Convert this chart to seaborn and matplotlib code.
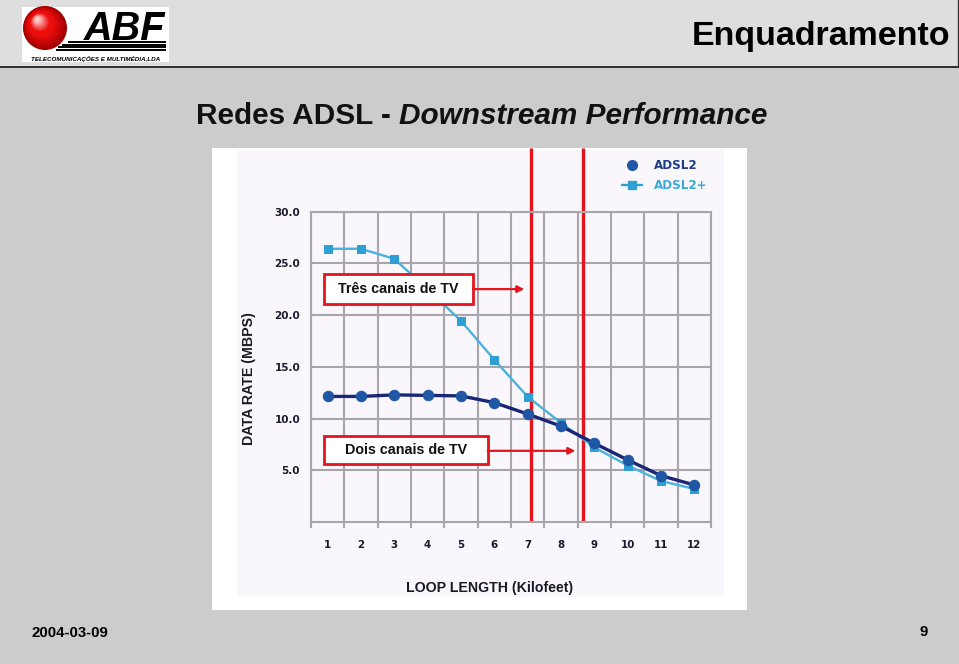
import numpy as np
import pandas as pd
import matplotlib
matplotlib.use('Agg')
import matplotlib.pyplot as plt
import seaborn as sns
from matplotlib.patches import Rectangle, Circle
from matplotlib.lines import Line2D
from matplotlib import font_manager

# ---------------- data ----------------
loop_kft = [1, 2, 3, 4, 5, 6, 7, 8, 9, 10, 11, 12]
adsl2 = [12.15, 12.15, 12.3, 12.25, 12.2, 11.55, 10.45, 9.28, 7.63, 6.02, 4.5, 3.6]
adsl2_plus = [26.4, 26.4, 25.43, 22.5, 19.45, 15.69, 12.12, 9.6, 7.23, 5.48, 3.98, 3.22]
x_tick_labels = [str(v) for v in loop_kft]
y_ticks = [5, 10, 15, 20, 25, 30]
y_tick_labels = ['5.0', '10.0', '15.0', '20.0', '25.0', '30.0']
series_names = ['ADSL2', 'ADSL2+']
tv_limits = [7.09, 8.67]
tv_notes = ['Três canais de TV', 'Dois canais de TV']

# ---------------- style ----------------
sns.set_theme(style='white')
plt.rcParams['font.family'] = ['Liberation Sans', 'DejaVu Sans']

names = {f.name for f in font_manager.fontManager.ttflist}
if 'Liberation Sans Narrow' in names:
    narrow_family, narrow_size = 'Liberation Sans Narrow', 12
else:
    narrow_family, narrow_size = 'Liberation Sans', 10.2

W, H = 959, 664
fig = plt.figure(figsize=(W / 100, H / 100), dpi=100)
fig.patch.set_facecolor('#cccccc')

bg = fig.add_axes([0, 0, 1, 1], zorder=0)
bg.set_xlim(0, W)
bg.set_ylim(H, 0)
bg.axis('off')

# header band
bg.add_patch(Rectangle((0, 0), 958, 67, fc='#dedede', ec='none'))
bg.plot([0, 958], [67, 67], color='#202020', lw=1.3)
bg.plot([957.5, 957.5], [0, 67], color='#303030', lw=1.0)

# logo
bg.add_patch(Rectangle((22, 7), 147, 55, fc='white', ec='none'))
n = 30
c_dark = np.array([0.62, 0.0, 0.0])
c_mid = np.array([0.93, 0.05, 0.05])
c_light = np.array([1.0, 0.85, 0.85])
for i in range(n):
    t = i / n
    r = 22 * (1 - t * 0.92)
    cx = 45 - 8 * t
    cy = 28 - 9 * t
    col = c_dark + (c_mid - c_dark) * min(1, t * 2.2)
    if t > 0.6:
        col = c_mid + (c_light - c_mid) * ((t - 0.6) / 0.4)
    bg.add_patch(Circle((cx, cy), r, fc=col, ec='none'))
for yy, x0 in [(42, 68), (44.5, 62), (47, 58), (49.5, 56)]:
    bg.plot([x0, 166], [yy, yy], color='black', lw=1.4, solid_capstyle='butt')
bg.text(84, 40, 'ABF', fontsize=28.5, fontweight='bold', fontstyle='italic',
        color='black', va='baseline', ha='left')
bg.text(96, 58.5, 'TELECOMUNICAÇÕES E MULTIMÉDIA,LDA', fontsize=4.5,
        fontweight='bold', fontstyle='italic', color='black', ha='center', va='center')

bg.text(950, 45, 'Enquadramento', fontsize=24.5, fontweight='bold', color='black',
        ha='right', va='baseline')
bg.text(32, 636.7, '2004-03-09', fontsize=10.8, fontweight='bold', color='black',
        ha='left', va='baseline')
bg.text(928, 636, '9', fontsize=10.8, fontweight='bold', color='black',
        ha='right', va='baseline')

# title (bold + bold italic)
t1 = bg.text(196, 124.3, 'Redes ADSL - ', fontsize=21.4, fontweight='bold',
             color='#111111', ha='left', va='baseline')
fig.canvas.draw()
rend = fig.canvas.get_renderer()
bb = t1.get_window_extent(renderer=rend)
x_end = bb.x1
bg.text(x_end, 124.3, 'Downstream Performance', fontsize=21.4, fontweight='bold',
        fontstyle='italic', color='#111111', ha='left', va='baseline')

# chart picture background
bg.add_patch(Rectangle((212, 148), 535, 462, fc='white', ec='none'))
bg.add_patch(Rectangle((237, 150), 487, 447, fc='#f9f7fc', ec='none'))

# axis titles
bg.text(249, 379, 'DATA RATE (MBPS)', rotation=90, fontsize=narrow_size,
        fontweight='bold', family=narrow_family, color='#1a1a24', ha='center', va='center')
bg.text(489.5, 588, 'LOOP LENGTH (Kilofeet)', fontsize=narrow_size,
        fontweight='bold', family=narrow_family, color='#1a1a24', ha='center', va='center')

# ---------------- chart axes ----------------
ax_l, ax_r, ax_t, ax_b = 310.9, 711.1, 211.5, 522.3
ax = fig.add_axes([ax_l / W, (H - ax_b) / H, (ax_r - ax_l) / W, (ax_b - ax_t) / H], zorder=1)
ax.set_facecolor('none')

grid_c = '#a9a5ad'
red = '#e3141b'
c_adsl2_line = '#1b2677'
c_adsl2_mark = '#1f57a5'
c_plus_line = '#4ab2db'
c_plus_mark = '#2e9fd3'

sns.lineplot(x=loop_kft, y=adsl2_plus, ax=ax, color=c_plus_line, lw=1.7,
             marker='s', markersize=5.5, markerfacecolor=c_plus_mark,
             markeredgecolor=c_plus_mark, legend=False, zorder=3)
sns.lineplot(x=loop_kft, y=adsl2, ax=ax, color=c_adsl2_line, lw=2.4,
             marker='o', markersize=7.5, markerfacecolor=c_adsl2_mark,
             markeredgecolor=c_adsl2_mark, legend=False, zorder=4)

ax.set_xlim(0.5, 12.5)
ax.set_ylim(0, 30)
ax.set_xticks(loop_kft)
ax.set_xticklabels(x_tick_labels)
ax.set_xticks(np.arange(0.5, 13, 1), minor=True)
ax.set_yticks(y_ticks)
ax.set_yticklabels(y_tick_labels)
ax.set_xlabel('')
ax.set_ylabel('')

ax.grid(False)
ax.grid(which='minor', axis='x', color=grid_c, lw=1.5, zorder=0)
ax.grid(which='major', axis='y', color=grid_c, lw=1.5, zorder=0)
ax.set_axisbelow(True)

ax.tick_params(axis='x', which='major', length=0, pad=13, labelsize=7.4,
               labelcolor='#1a1a2a')
ax.tick_params(axis='x', which='minor', length=4, width=1.5, color=grid_c,
               direction='out', bottom=True)
ax.tick_params(axis='y', which='major', length=0, pad=7.8, labelsize=7.5,
               labelcolor='#1a1a2a')
for lab in ax.get_xticklabels() + ax.get_yticklabels():
    lab.set_fontfamily('DejaVu Sans')
    lab.set_fontweight('bold')

for s in ['left', 'right', 'top', 'bottom']:
    ax.spines[s].set_visible(True)
    ax.spines[s].set_color(grid_c)
    ax.spines[s].set_linewidth(1.5)

# red TV limit lines
ax.vlines(tv_limits, 0, 36.13, colors=red, lw=2.4, clip_on=False, zorder=2.5)

# annotation boxes
boxes = [
    dict(x0=0.90, x1=5.36, y0=21.09, y1=23.95, ax_end=6.9, ay=22.51),
    dict(x0=0.90, x1=5.80, y0=5.58, y1=8.34, ax_end=8.43, ay=6.9),
]
for note, b in zip(tv_notes, boxes):
    ax.add_patch(Rectangle((b['x0'], b['y0']), b['x1'] - b['x0'], b['y1'] - b['y0'],
                           fc='white', ec=red, lw=2.0, zorder=6))
    ax.text((b['x0'] + b['x1']) / 2, (b['y0'] + b['y1']) / 2, note, fontsize=10.3,
            fontweight='bold', color='#111111', ha='center', va='center', zorder=7)
    ax.annotate('', xy=(b['ax_end'], b['ay']), xytext=(b['x1'], b['ay']),
                arrowprops=dict(arrowstyle='-|>', color=red, lw=1.6,
                                mutation_scale=10, shrinkA=0, shrinkB=0),
                zorder=6)

# legend
handles = [
    Line2D([], [], marker='o', ls='none', ms=7, color=c_adsl2_mark),
    Line2D([], [], marker='s', ls='-', lw=1.7, ms=6, color=c_plus_mark),
]
leg = ax.legend(handles=handles, labels=series_names, loc='upper left',
                bbox_to_anchor=(622 / W, 1 - 159 / H), bbox_transform=fig.transFigure,
                frameon=False, borderpad=0, borderaxespad=0, handlelength=1.7,
                handletextpad=1.0, labelspacing=0.62,
                prop=dict(family='DejaVu Sans', weight='bold', size=8.6))
for txt, col in zip(leg.get_texts(), ['#1f3c88', '#3aa9d8']):
    txt.set_color(col)

fig.savefig('out.png', dpi=100, facecolor=fig.get_facecolor())
